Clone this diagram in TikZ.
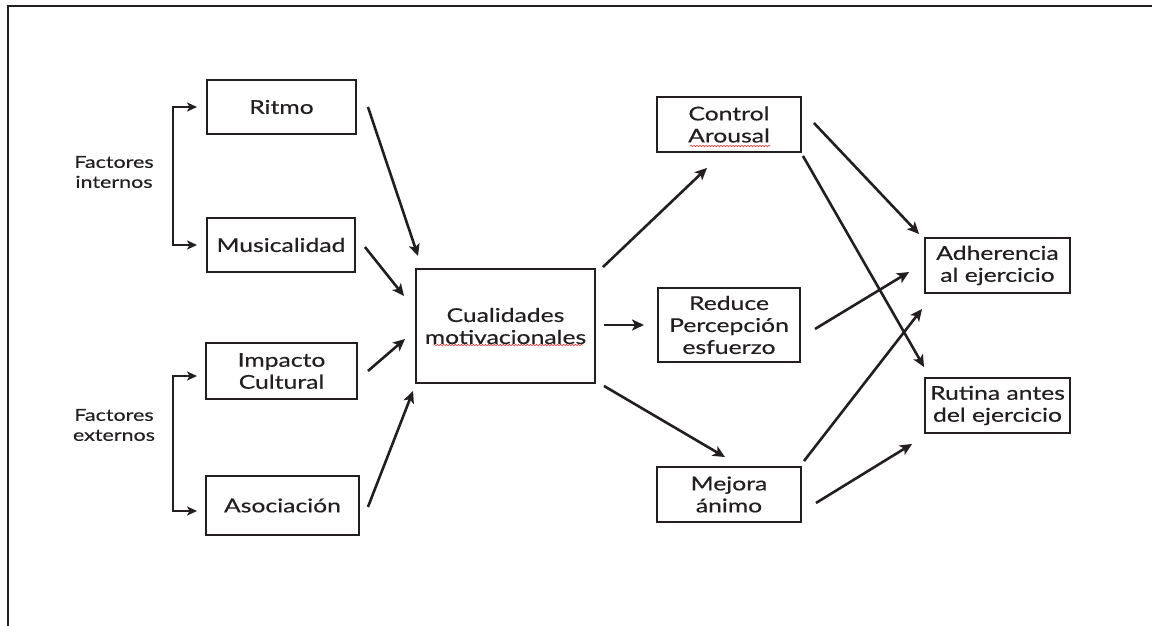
\documentclass[tikz,border=0pt]{standalone}
\usepackage{fontspec}
\setmainfont{Lato}[FakeStretch=1.3,FakeBold=0.4]
\usetikzlibrary{arrows.meta,calc,decorations.pathmorphing}
\definecolor{ink}{RGB}{35,31,32}
\definecolor{spell}{RGB}{230,60,60}
\begin{document}
\begin{tikzpicture}[x=1pt,y=-1pt,
  box/.style={draw=ink,line width=1.9pt,inner sep=0pt,align=center,text=ink,
    font=\fontsize{19}{22}\selectfont},
  lbl/.style={align=center,text=ink,font=\fontsize{16.5}{20}\selectfont},
  arr/.style={draw=ink,line width=2.6pt,-{Stealth[length=12pt,width=11pt,inset=3pt]}},
  brk/.style={draw=ink,line width=2.6pt,{Stealth[length=10pt,width=9pt,inset=2.5pt]}-{Stealth[length=10pt,width=9pt,inset=2.5pt]}},
  wavy/.style={draw=spell,line width=0.7pt,decorate,decoration={snake,amplitude=0.6pt,segment length=3pt}}]
\useasboundingbox (0,0) rectangle (1152,626);
% frame
\draw[ink,line width=2.6pt] (8,626) -- (8,6) -- (1152,6);
% nodes
\node[box,minimum width=149,minimum height=54] (rit) at (281.5,107) {Ritmo};
\node[box,minimum width=148,minimum height=54] (mus) at (281,245) {Musicalidad};
\node[box,minimum width=151,minimum height=56] (imp) at (281.5,371) {Impacto\\Cultural};
\node[box,minimum width=153,minimum height=59] (aso) at (282.5,505.5) {Asociación};
\node[box,minimum width=179,minimum height=114] (cual) at (505.5,326) {Cualidades\\motivacionales};
\node[box,minimum width=144,minimum height=55] (ctrl) at (729,124.5) {Control\\Arousal};
\node[box,minimum width=142,minimum height=74] (red) at (729,325) {Reduce\\Percepción\\esfuerzo};
\node[box,minimum width=144,minimum height=55] (mej) at (729,494.5) {Mejora\\ánimo};
\node[box,minimum width=145,minimum height=55] (adh) at (997.5,265.5) {Adherencia\\al ejercicio};
\node[box,minimum width=145,minimum height=55] (rut) at (997.5,405.5) {Rutina antes\\del ejercicio};
\node[lbl] (fint) at (114,172) {Factores\\internos};
\node[lbl] (fext) at (114,425) {Factores\\externos};
% spell-check underlines
\draw[wavy] ($(cual.center)+(-72,19)$) -- ($(cual.center)+(77,19)$);
\draw[wavy] ($(ctrl.center)+(-39,21.5)$) -- ($(ctrl.center)+(41,21.5)$);
% brackets
\draw[brk] ($(rit.west)+(-9,0)$) -| ($(mus.west)+(-33,0)$) -- ($(mus.west)+(-9,0)$);
\draw[brk] ($(imp.west)+(-8,5)$) -| ($(aso.west)+(-32,5.5)$) -- ($(aso.west)+(-8,5.5)$);
% connectors
\draw[arr] ($(rit.east)+(11,0)$) -- ($(cual.north west)+(3,-12)$);
\draw[arr] ($(mus.east)+(9,2)$) -- ($(cual.west)+(-11,-30)$);
\draw[arr] ($(imp.east)+(10,0)$) -- ($(cual.west)+(-10,13)$);
\draw[arr] ($(aso.east)+(8,1.5)$) -- ($(cual.south west)+(-2,7)$);
\draw[arr] ($(cual.north east)+(7,-1)$) -- ($(ctrl.south)+(-22,15)$);
\draw[arr] ($(cual.east)+(8,-1)$) -- ($(red.west)+(-13,0)$);
\draw[arr] ($(cual.south east)+(8,2)$) -- ($(mej.north)+(-4,-9)$);
\draw[arr] ($(ctrl.east)+(12,-1.5)$) -- ($(adh.north west)+(-5,-3)$);
\draw[arr] ($(ctrl.south east)+(1,3)$) -- ($(rut.north west)+(0,-10)$);
\draw[arr] ($(red.east)+(14,4)$) -- ($(adh.west)+(-15,6.5)$);
\draw[arr] ($(mej.north east)+(2,-5)$) -- ($(adh.south west)+(-2,15)$);
\draw[arr] ($(mej.east)+(14,8.5)$) -- ($(rut.south west)+(-12,10)$);
\end{tikzpicture}
\end{document}
